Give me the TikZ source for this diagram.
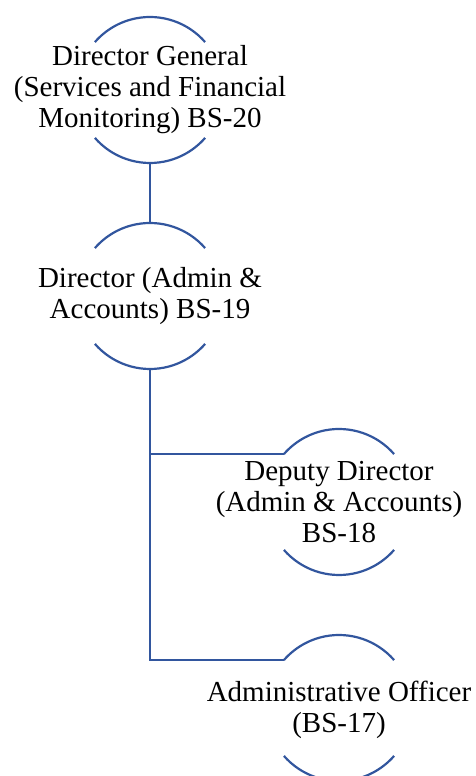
\documentclass[tikz,border=0pt]{standalone}
\usepackage{fontspec}
\setmainfont{Liberation Serif}
\usepackage{tikz}
\usetikzlibrary{positioning}
\definecolor{rimblue}{RGB}{50,86,158}

\begin{document}
\begin{tikzpicture}[x=1pt, y=1pt,
  ring/.style={circle, minimum size=146pt, inner sep=0pt, outer sep=0pt},
  post/.style={align=center, inner sep=0pt, font=\fontsize{29}{31}\selectfont},
  rim/.style={draw=rimblue, line width=2.2pt},
  link/.style={draw=rimblue, line width=2.2pt}
]
\clip (0,0) rectangle (475,776);
% rings
\node[ring] (dg)  at (150,686) {};
\node[ring, below=60pt of dg] (dir) {};
\node[ring] (dd)  at (339,274) {};
\node[ring] (ao)  at (339,68) {};
% titles
\node[post] (dgtext)  at (dg)  {Director General\\(Services and Financial\\Monitoring) BS-20};
\node[post] (dirtext) at (dir) {Director (Admin \&\\Accounts) BS-19};
\node[post] (ddtext)  at (dd)  {Deputy Director\\(Admin \& Accounts)\\BS-18};
\node[post] (aotext)  at ([yshift=-2pt]ao.center) {Administrative Officer\\(BS-17)};
% arcs above and below each title
\foreach \n in {dg,dir,dd,ao} {
  \draw[rim] (\n.41) arc[start angle=41, end angle=139, radius=73pt];
  \draw[rim] (\n.221) arc[start angle=221, end angle=319, radius=73pt];
}
% connectors
\draw[link] (dg.south) -- (dir.north);
\draw[link] (dir.south) |- (dd.139);
\draw[link] (dir.south) |- (ao.139);
\end{tikzpicture}
\end{document}
